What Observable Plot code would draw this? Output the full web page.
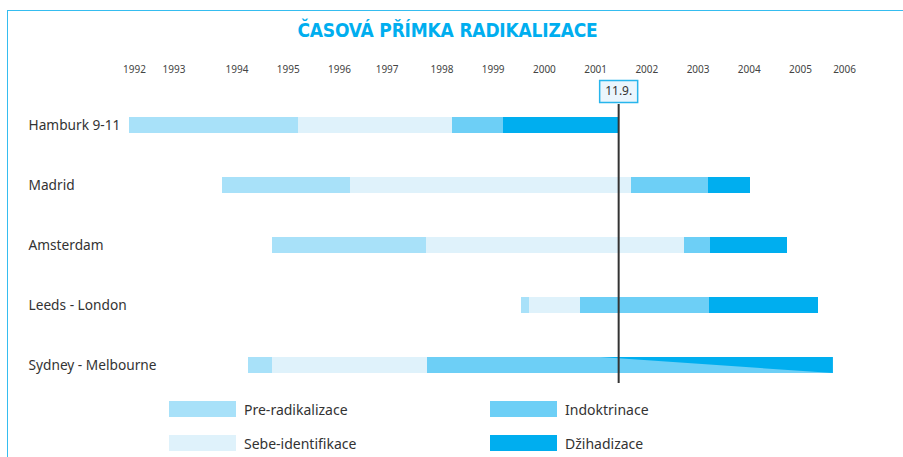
<!DOCTYPE html>
<html>
<head>
<meta charset="utf-8">
<script src="https://cdn.jsdelivr.net/npm/d3@7"></script>
<script src="https://cdn.jsdelivr.net/npm/@observablehq/plot@0.6"></script>
<style>
  html, body { margin: 0; padding: 0; background: #fff; width: 903px; height: 457px; overflow: hidden; }
  body { position: relative; font-family: "Noto Sans", sans-serif; color: #333; }
  #frame { position: absolute; left: 7px; top: 10px; width: 1000px; height: 500px;
           border-top: 1.5px solid #35bdf0; border-left: 1.5px solid #35bdf0; box-sizing: border-box; }
  #title { position: absolute; left: 0; top: 16px; width: 895px; text-align: center;
           font-family: "Liberation Sans Narrow", "DejaVu Sans Condensed", sans-serif; font-stretch: condensed;
           font-weight: bold; font-size: 19px; letter-spacing: -0.2px; color: #00aeef; line-height: 28px; }
  #chart { position: absolute; left: 0; top: 50px; }
  .lg { position: absolute; display: flex; align-items: center; font-size: 14px; color: #333; }
  .lg .sw { width: 67px; height: 16px; margin-right: 8px; }
</style>
</head>
<body>
<div id="frame"></div>
<div id="title">ČASOVÁ PŘÍMKA RADIKALIZACE</div>
<div id="chart"></div>
<div id="legend"></div>
<script>
// ---- data ----
const rows = ["Hamburk 9-11", "Madrid", "Amsterdam", "Leeds - London", "Sydney - Melbourne"];
const phases = ["Pre-radikalizace", "Sebe-identifikace", "Indoktrinace", "Džihadizace"];
const phaseColors = ["#a8e1f9", "#dff2fb", "#6dcff6", "#00aeef"];

// phase start/end (years) per row
const preStart   = [1991.90, 1993.72, 1994.69, 1999.55, 1994.22];
const sebeStart  = [1995.20, 1996.22, 1997.70, 1999.71, 1994.69];
const indokStart = [1998.21, 2001.70, 2002.73, 2000.70, 1997.72];
const dzihStart  = [1999.20, 2003.20, 2003.24, 2003.22, 2005.64];
const phaseEnd   = [2001.45, 2004.02, 2004.75, 2005.35, 2005.64];

// Sydney – Melbourne: džihadizace wedge growing over indoktrinace
const wedgeRow = 4;
const wedgeStart = 2001.10;
const wedgeEnd = 2005.64;

// year tick positions as drawn, and their labels
const tickPos = [1992, 1992.77, 1994, 1995, 1996, 1996.93, 1998, 1999, 2000, 2001, 2002, 2003, 2004, 2005, 2005.86];
const tickLabels = ["1992","1993","1994","1995","1996","1997","1998","1999","2000","2001","2002","2003","2004","2005","2006"];

const eventDate = 2001.45;
const eventLabel = "11.9.";

// ---- build ----
const bounds = [preStart, sebeStart, indokStart, dzihStart, phaseEnd];
const segs = [];
rows.forEach((r, i) => {
  phases.forEach((p, k) => {
    const x1 = bounds[k][i], x2 = bounds[k + 1][i];
    if (x2 > x1) segs.push({row: r, i, phase: p, x1, x2});
  });
});
const H = 8 / 60; // half bar thickness in row units

const boxSymbol = {
  draw(ctx) {
    ctx.moveTo(-19, -11); ctx.lineTo(19, -11); ctx.lineTo(19, 11); ctx.lineTo(-19, 11); ctx.closePath();
  }
};

const chart = Plot.plot({
  width: 903,
  height: 340,
  marginLeft: 82.81,
  marginRight: 0.51,
  marginTop: 75,
  marginBottom: 25,
  x: {domain: [1991, 2007], axis: null},
  y: {domain: [0, 4], reverse: true, axis: null},
  color: {domain: phases, range: phaseColors},
  style: {fontFamily: "Noto Sans", background: "transparent", overflow: "visible", color: "#333"},
  marks: [
    Plot.rect(segs, {x1: "x1", x2: "x2", y1: d => d.i - H, y2: d => d.i + H, fill: "phase", shapeRendering: "crispEdges"}),
    Plot.areaY([wedgeStart, wedgeEnd], {
      x: d => d,
      y1: () => wedgeRow - H,
      y2: (d, j) => j === 0 ? wedgeRow - H : wedgeRow + H,
      fill: phaseColors[3]
    }),
    Plot.text(tickLabels, {x: (d, j) => tickPos[j], y: () => -0.933, text: d => d, fontSize: 10, fill: "#444"}),
    Plot.text(rows, {y: (d, i) => i, text: d => d, frameAnchor: "left", dx: -54.8, textAnchor: "start", fontSize: 13.7, fill: "#333"}),
    Plot.ruleX([eventDate], {y1: -0.35, y2: 4.3, stroke: "#333", strokeWidth: 2}),
    Plot.dot([eventDate], {x: d => d, y: () => -0.567, symbol: boxSymbol, r: 1, fill: "#eaf6fd", stroke: "#27b5ec", strokeWidth: 1.5}),
    Plot.text([eventLabel], {x: () => eventDate, y: () => -0.567, text: d => d, fontSize: 12, fill: "#333"})
  ]
});
document.getElementById("chart").appendChild(chart);

// legend (2 x 2)
const colX = [169, 490], rowY = [401, 435];
const legend = document.getElementById("legend");
phases.forEach((p, k) => {
  const col = Math.floor(k / 2), row = k % 2;
  const el = document.createElement("div");
  el.className = "lg";
  el.style.left = colX[col] + "px";
  el.style.top = rowY[row] + "px";
  el.style.height = "16px";
  el.innerHTML = `<div class="sw" style="background:${phaseColors[k]}"></div><span>${p}</span>`;
  legend.appendChild(el);
});
</script>
</body>
</html>
